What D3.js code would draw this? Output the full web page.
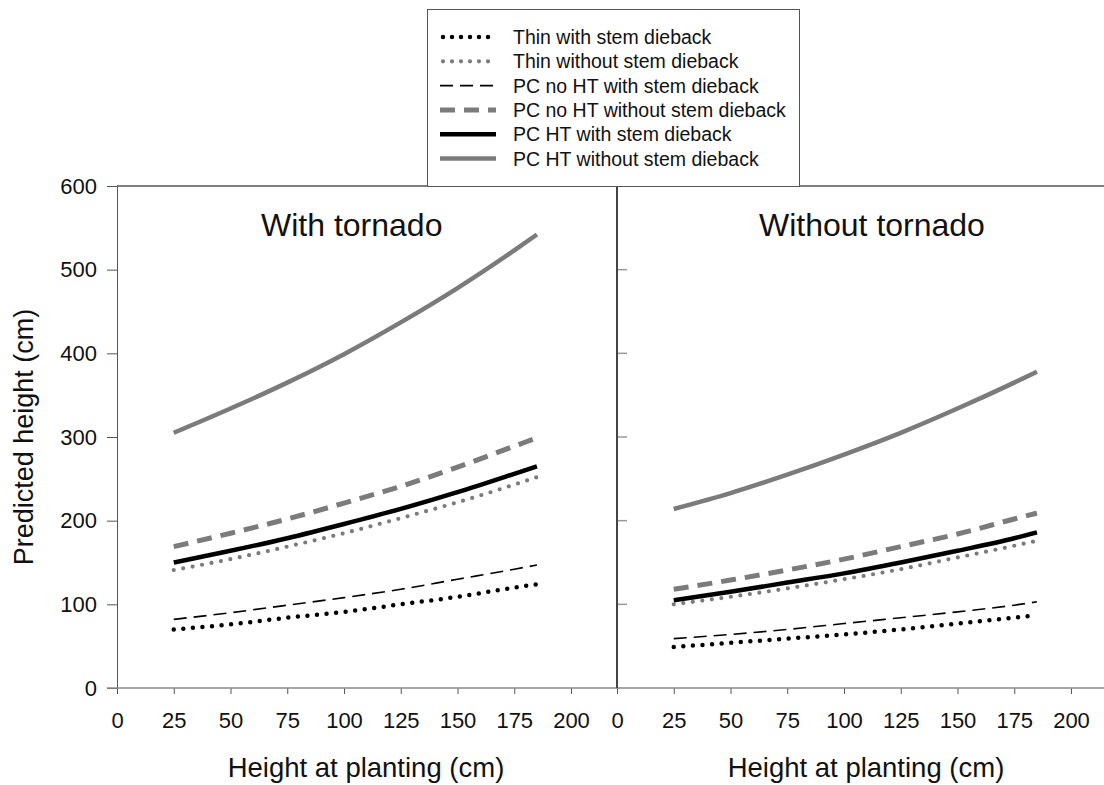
<!DOCTYPE html>
<html>
<head>
<meta charset="utf-8">
<script src="https://cdn.jsdelivr.net/npm/d3@7"></script>
<style>
  body { margin: 0; background: #fff; }
  svg text { font-family: "Liberation Sans", Arial, sans-serif; fill: #111; }
</style>
</head>
<body>
<svg id="chart" width="1104" height="785"></svg>
<script>
// planting height (cm) where the predicted curves were read
var plantingHeight = [25, 50, 75, 100, 125, 150, 175, 185];

var seriesNames = [
    "Thin with stem dieback",
    "Thin without stem dieback",
    "PC no HT with stem dieback",
    "PC no HT without stem dieback",
    "PC HT with stem dieback",
    "PC HT without stem dieback"
];

// With tornado
var withThinDieback   = [70, 76, 84, 91, 100, 109, 120, 124];
var withThinNoDieback = [141, 154, 169, 185, 203, 222, 243, 252];
var withNoHTDieback   = [82, 90, 99, 108, 118, 130, 142, 147];
var withNoHTNoDieback = [169, 185, 202, 221, 241, 264, 289, 299];
var withHTDieback     = [150, 164, 179, 196, 214, 234, 256, 265];
var withHTNoDieback   = [305, 334, 365, 399, 437, 478, 523, 542];

// Without tornado
var withoutThinDieback   = [49, 54, 59, 64, 70, 77, 84, 87];
var withoutThinNoDieback = [100, 109, 119, 130, 142, 156, 170, 176];
var withoutNoHTDieback   = [59, 64, 70, 77, 84, 91, 99, 103];
var withoutNoHTNoDieback = [118, 129, 141, 154, 169, 184, 202, 209];
var withoutHTDieback     = [105, 115, 126, 137, 150, 164, 179, 186];
var withoutHTNoDieback   = [214, 233, 255, 279, 305, 334, 365, 378];

var xTicks = [0, 25, 50, 75, 100, 125, 150, 175, 200];
var yTicks = [0, 100, 200, 300, 400, 500, 600];

// line styles, same order as seriesNames
var gray = "#7b7b7b";
var styles = [
    {color: "#000", width: 4.5, dash: "0 9.6", cap: "round"},
    {color: gray,   width: 4.2, dash: "0 9.6", cap: "round"},
    {color: "#000", width: 1.6, dash: "13 7",  cap: "butt"},
    {color: gray,   width: 5,   dash: "15 9",  cap: "butt"},
    {color: "#000", width: 4.5, dash: null,    cap: "butt"},
    {color: gray,   width: 4.5, dash: null,    cap: "butt"}
];

var svg = d3.select("#chart");

var plotTop = 186, plotBottom = 688, divider = 617, plotLeft = 117, plotRight = 1104;

var y = d3.scaleLinear().domain([0, 600]).range([plotBottom, plotTop]);
var xL = d3.scaleLinear().domain([0, 200]).range([plotLeft, 571]);
var xR = d3.scaleLinear().domain([0, 200]).range([divider, 1071]);

var axisColor = "#555";

function drawPanel(x, title, data, titleX) {
    var g = svg.append("g");
    var xAxis = g.append("g")
        .attr("transform", "translate(0," + plotBottom + ")")
        .call(d3.axisBottom(x).tickValues(xTicks).tickSize(6).tickPadding(18));
    xAxis.select(".domain").remove();
    xAxis.selectAll("line").attr("stroke", axisColor);
    xAxis.selectAll("text").style("font-size", "22px").attr("fill", "#111");

    g.append("text")
        .attr("x", titleX)
        .attr("y", 236)
        .style("font-size", "32px")
        .text(title);

    // axis title, centred under the whole panel width
    g.append("text")
        .attr("x", x(0) + 249).attr("y", 777)
        .attr("text-anchor", "middle").style("font-size", "27.5px")
        .text("Height at planting (cm)");

    var line = d3.line()
        .x(function (d, i) { return x(plantingHeight[i]); })
        .y(function (d) { return y(d); })
        .curve(d3.curveMonotoneX);

    g.selectAll("path.series")
        .data(data)
        .enter().append("path")
        .attr("class", "series")
        .attr("d", line)
        .attr("fill", "none")
        .attr("stroke", function (d, i) { return styles[i].color; })
        .attr("stroke-width", function (d, i) { return styles[i].width; })
        .attr("stroke-dasharray", function (d, i) { return styles[i].dash; })
        .attr("stroke-linecap", function (d, i) { return styles[i].cap; });
}

drawPanel(xL, "With tornado",
    [withThinDieback, withThinNoDieback, withNoHTDieback, withNoHTNoDieback, withHTDieback, withHTNoDieback], 261);
drawPanel(xR, "Without tornado",
    [withoutThinDieback, withoutThinNoDieback, withoutNoHTDieback, withoutNoHTNoDieback, withoutHTDieback, withoutHTNoDieback], 759);

// left y axis
var yAxis = svg.append("g")
    .attr("transform", "translate(" + plotLeft + ",0)")
    .call(d3.axisLeft(y).tickValues(yTicks).tickSize(10).tickPadding(10));
yAxis.select(".domain").attr("stroke", axisColor);
yAxis.selectAll("line").attr("stroke", axisColor);
yAxis.selectAll("text").style("font-size", "22px").attr("fill", "#111");

// inner ticks of the right panel
svg.append("g")
    .selectAll("line")
    .data([100, 200, 300, 400, 500])
    .enter().append("line")
    .attr("x1", divider).attr("x2", divider + 10)
    .attr("y1", function (d) { return y(d); })
    .attr("y2", function (d) { return y(d); })
    .attr("stroke", "#999").attr("stroke-width", 1.5);

// frame lines
svg.append("line").attr("x1", plotLeft).attr("x2", plotRight).attr("y1", plotTop).attr("y2", plotTop)
    .attr("stroke", axisColor).attr("stroke-width", 1.5);
svg.append("line").attr("x1", plotLeft - 10).attr("x2", plotRight).attr("y1", plotBottom).attr("y2", plotBottom)
    .attr("stroke", "#888").attr("stroke-width", 1.5);
svg.append("line").attr("x1", divider).attr("x2", divider).attr("y1", plotTop).attr("y2", plotBottom)
    .attr("stroke", "#444").attr("stroke-width", 2);

svg.append("text")
    .attr("transform", "translate(33," + (plotTop + plotBottom) / 2 + ") rotate(-90)")
    .attr("text-anchor", "middle").style("font-size", "27px")
    .text("Predicted height (cm)");

// legend
var legend = svg.append("g");
legend.append("rect")
    .attr("x", 427.5).attr("y", 9.5).attr("width", 372).attr("height", 177)
    .attr("fill", "#fff").attr("stroke", "#555").attr("stroke-width", 1);

var rows = legend.selectAll("g.row")
    .data(seriesNames)
    .enter().append("g")
    .attr("class", "row")
    .attr("transform", function (d, i) { return "translate(0," + (37 + i * 24.3) + ")"; });

rows.append("line")
    .attr("x1", function (d, i) { return styles[i].cap === "round" ? 443 : 440; })
    .attr("x2", 496)
    .attr("stroke", function (d, i) { return styles[i].color; })
    .attr("stroke-width", function (d, i) { return styles[i].width; })
    .attr("stroke-dasharray", function (d, i) { return styles[i].dash === "0 9.6" ? "0 9" : styles[i].dash; })
    .attr("stroke-linecap", function (d, i) { return styles[i].cap; });

rows.append("text")
    .attr("x", 513)
    .attr("dy", "0.36em")
    .style("font-size", "19.5px")
    .text(function (d) { return d; });
</script>
</body>
</html>
